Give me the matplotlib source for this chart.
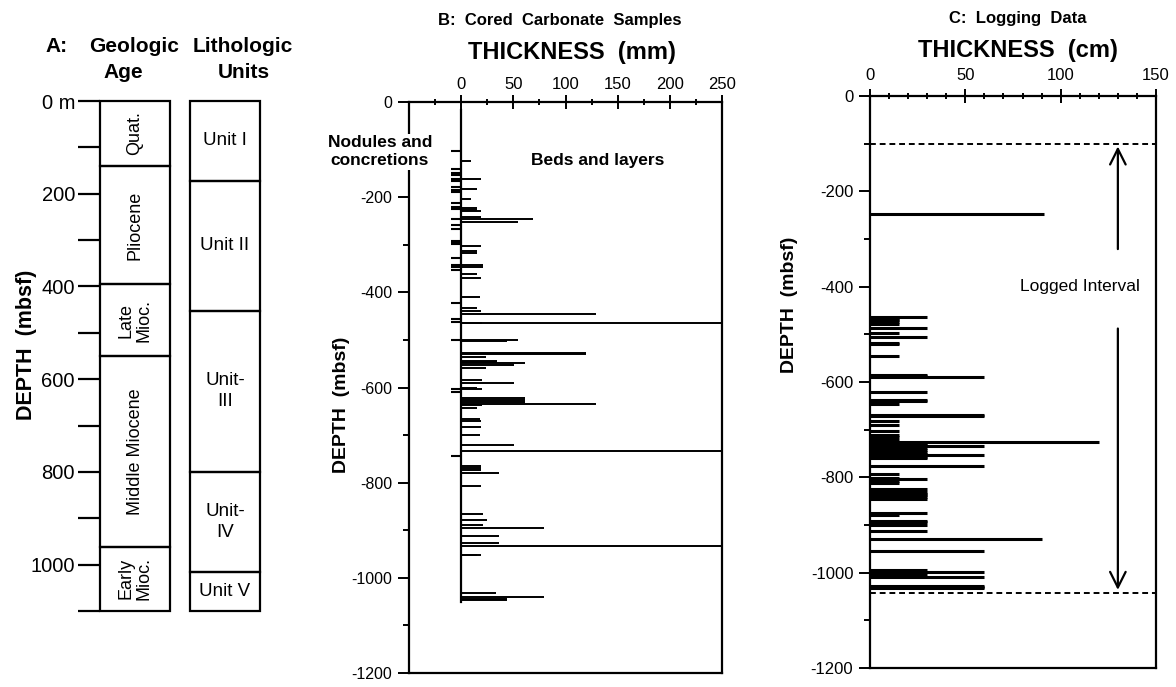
import matplotlib.pyplot as plt
from matplotlib.patches import Rectangle

plt.rcParams['font.family'] = ['Liberation Sans', 'DejaVu Sans']
plt.rcParams['axes.unicode_minus'] = False

W, H = 1176, 687

# ---- Panel A: ages and lithologic units (depth in m) ----
age_names = ['Quat.', 'Pliocene', 'Late\nMioc.', 'Middle Miocene', 'Early\nMioc.']
age_bounds = [0, 140, 395, 550, 961, 1100]
unit_names = ['Unit I', 'Unit II', 'Unit-\nIII', 'Unit-\nIV', 'Unit V']
unit_bounds = [0, 172, 452, 800, 1015, 1100]

# ---- Panel B: cored carbonate samples (depth m, thickness mm) ----
nodule_depth = [104, 141, 150, 153, 161, 165, 179, 184, 187, 190, 213, 220, 224,
                246, 259, 266, 292, 296, 299, 328, 343, 347, 353, 423, 457, 463,
                500, 604, 609, 743]
nodule_thick = [10] * len(nodule_depth)

bed_depth = [124, 162, 183, 204, 223, 226, 229, 241, 246, 253, 302, 314, 318,
             343, 346, 361, 370, 409, 433, 439, 445, 464, 465, 500, 503, 527,
             529, 535, 545, 547, 549, 552, 560, 584, 591, 600, 604, 622, 626,
             630, 634, 637, 644, 667, 670, 682, 700, 721, 733, 766, 769, 773,
             780, 808, 866, 878, 889, 896, 913, 927, 934, 951, 953, 1031, 1041,
             1045, 1047]
bed_thick = [9, 19, 15, 9, 15, 15, 19, 19, 69, 54, 19, 15, 15,
             21, 21, 15, 19, 18, 15, 19, 129, 20, 250, 54, 44, 120,
             120, 24, 34, 34, 61, 51, 24, 20, 51, 15, 20, 61, 61,
             61, 129, 20, 15, 18, 19, 19, 18, 51, 250, 19, 19, 19,
             36, 19, 21, 25, 21, 79, 36, 36, 250, 15, 19, 33, 79,
             44, 44]

# ---- Panel C: logging data (depth m, thickness cm) ----
log_depth = [247, 463, 467, 470, 474, 479, 486, 498, 505, 519, 521, 545, 586,
             588, 590, 620, 637, 640, 646, 669, 671, 681, 691, 702, 711, 716,
             721, 725, 727, 731, 734, 738, 742, 746, 750, 753, 757, 760, 776,
             793, 801, 804, 808, 812, 825, 830, 834, 838, 842, 846, 875, 878,
             891, 894, 899, 913, 930, 955, 994, 999, 1003, 1009, 1027, 1030, 1033]
log_thick = [91, 30, 15, 15, 15, 15, 30, 15, 30, 15, 15, 15, 30,
             30, 60, 30, 30, 30, 15, 60, 60, 15, 15, 15, 15, 15,
             15, 120, 30, 30, 60, 30, 30, 30, 30, 60, 30, 30, 60,
             15, 15, 30, 15, 15, 30, 30, 30, 30, 30, 30, 30, 15,
             30, 30, 30, 30, 90, 60, 30, 60, 30, 60, 60, 60, 60]
logged_top, logged_bottom = 100, 1042


def px_rect(x0, y0, x1, y1):
    return [x0 / W, 1 - y1 / H, (x1 - x0) / W, (y1 - y0) / H]


def ftext(x, y, s, **kw):
    fig.text(x / W, 1 - y / H, s, ha='center', va='center', **kw)


fig = plt.figure(figsize=(W / 100, H / 100), dpi=100)

# ---------------- Panel A ----------------
axA = fig.add_axes(px_rect(100, 101, 260, 611))
axA.set_xlim(100, 260)
axA.set_ylim(1100, 0)
for s in axA.spines.values():
    s.set_visible(False)
axA.set_xticks([])
axA.set_yticks(range(0, 1001, 200))
axA.set_yticklabels(['0 m'] + [str(v) for v in range(200, 1001, 200)], fontsize=14.5)
axA.set_yticks(range(100, 1101, 200), minor=True)
axA.tick_params(axis='y', which='both', length=16, width=1.6, pad=2)
for i, name in enumerate(age_names):
    top, bot = age_bounds[i], age_bounds[i + 1]
    axA.add_patch(Rectangle((100, top), 70, bot - top, fill=False, lw=1.6, clip_on=False))
    axA.text(135, (top + bot) / 2, name, rotation=90, ha='center', va='center',
             fontsize=13, linespacing=1.1)
for i, name in enumerate(unit_names):
    top, bot = unit_bounds[i], unit_bounds[i + 1]
    axA.add_patch(Rectangle((190, top), 70, bot - top, fill=False, lw=1.6, clip_on=False))
    axA.text(225, (top + bot) / 2, name, ha='center', va='center', fontsize=13.5,
             linespacing=1.3)

ftext(57, 47, 'A:', fontsize=15, fontweight='bold')
ftext(134, 47, 'Geologic', fontsize=15, fontweight='bold')
ftext(243, 47, 'Lithologic', fontsize=15, fontweight='bold')
ftext(123, 73, 'Age', fontsize=15, fontweight='bold')
ftext(244, 73, 'Units', fontsize=15, fontweight='bold')
ftext(27, 345, 'DEPTH  (mbsf)', fontsize=15.5, fontweight='bold', rotation=90)

# ---------------- Panel B ----------------
axB = fig.add_axes(px_rect(409, 102, 722, 673))
axB.set_xlim(-50, 250)
axB.set_ylim(-1200, 0)
for s in axB.spines.values():
    s.set_linewidth(1.6)
axB.xaxis.tick_top()
axB.set_xticks(range(0, 251, 50))
axB.set_xticks(range(-25, 250, 50), minor=True)
axB.tick_params(axis='x', which='major', direction='inout', length=10, width=1.4,
                labelsize=12, pad=2)
axB.tick_params(axis='x', which='minor', direction='inout', length=5, width=1.4)
axB.set_yticks(range(-1200, 1, 200))
axB.set_yticklabels([str(v) for v in range(-1200, 1, 200)], fontsize=11.5)
axB.set_yticks(range(-1100, 0, 200), minor=True)
axB.tick_params(axis='y', which='major', length=8, width=1.4, pad=4)
axB.tick_params(axis='y', which='minor', length=4, width=1.4)

axB.plot([0, 0], [-17, -max(bed_depth) - 3], color='black', lw=1.6)
axB.hlines([-d for d in nodule_depth], 0, [-t for t in nodule_thick],
           color='black', lw=1.5)
axB.hlines([-d for d in bed_depth], 0, bed_thick, color='black', lw=1.4)

axB.text(-78, -105, 'Nodules and\nconcretions', ha='center', va='center',
         fontsize=12.5, fontweight='bold', linespacing=1.25, clip_on=False,
         zorder=5, bbox=dict(facecolor='white', edgecolor='none', pad=1))
axB.text(131, -122, 'Beds and layers', ha='center', va='center',
         fontsize=12.5, fontweight='bold')

ftext(560, 20, 'B:  Cored  Carbonate  Samples', fontsize=12, fontweight='bold')
ftext(572, 52, 'THICKNESS  (mm)', fontsize=17, fontweight='bold')
ftext(342, 405, 'DEPTH  (mbsf)', fontsize=14, fontweight='bold', rotation=90)

# ---------------- Panel C ----------------
axC = fig.add_axes(px_rect(870, 96, 1156, 668))
axC.set_xlim(0, 150)
axC.set_ylim(-1200, 0)
for s in axC.spines.values():
    s.set_linewidth(1.6)
axC.xaxis.tick_top()
axC.set_xticks(range(0, 151, 50))
axC.set_xticks(range(10, 150, 10), minor=True)
axC.tick_params(axis='x', which='major', direction='inout', length=10, width=1.4,
                labelsize=12, pad=4)
axC.tick_params(axis='x', which='minor', direction='inout', length=5, width=1.4)
axC.set_yticks(range(-1200, 1, 200))
axC.set_yticklabels([str(v) for v in range(-1200, 1, 200)], fontsize=12)
axC.set_yticks(range(-1100, 0, 200), minor=True)
axC.tick_params(axis='y', which='major', length=8, width=1.4, pad=4)
axC.tick_params(axis='y', which='minor', length=4, width=1.4)

axC.hlines([-d for d in log_depth], 0, log_thick, color='black', lw=2.2)
for d in (logged_top, logged_bottom):
    axC.axhline(-d, color='black', lw=1.4, ls=(0, (3, 2)))
axC.annotate('', xy=(130, -logged_top), xytext=(130, -327),
             arrowprops=dict(arrowstyle='->', lw=1.6, color='black',
                             mutation_scale=28))
axC.annotate('', xy=(130, -logged_bottom), xytext=(130, -482),
             arrowprops=dict(arrowstyle='->', lw=1.6, color='black',
                             mutation_scale=28))
axC.text(110, -400, 'Logged Interval', ha='center', va='center', fontsize=12.5)

ftext(1018, 18, 'C:  Logging  Data', fontsize=12, fontweight='bold')
ftext(1018, 50, 'THICKNESS  (cm)', fontsize=17, fontweight='bold')
ftext(790, 305, 'DEPTH  (mbsf)', fontsize=14, fontweight='bold', rotation=90)

fig.savefig('out.png', dpi=100)
